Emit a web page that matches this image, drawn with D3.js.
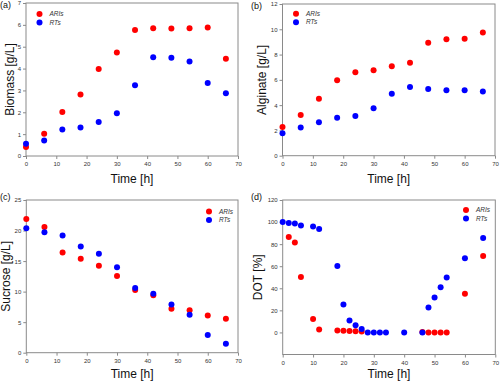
<!DOCTYPE html>
<html><head><meta charset="utf-8">
<script src="https://cdn.jsdelivr.net/npm/d3@7"></script>
<style>body{margin:0;background:#fff}svg{display:block;font-family:"Liberation Sans",Arial,sans-serif}</style>
</head><body><svg id="c" width="500" height="382"></svg>
<script>
const timeAB = [0,6,12,18,24,30,36,42,48,54,60,66];
const biomassARIs = [0.41,1.02,2.01,2.81,3.98,4.73,5.77,5.84,5.83,5.84,5.88,4.45];
const biomassRTs  = [0.56,0.71,1.21,1.30,1.55,1.96,3.24,4.52,4.49,4.32,3.34,2.87];
const alginateARIs = [2.27,3.22,4.51,5.96,6.60,6.75,7.07,7.36,8.94,9.21,9.26,9.74];
const alginateRTs  = [1.77,2.24,2.64,3.01,3.14,3.75,4.91,5.44,5.28,5.17,5.17,5.07];
const sucroseARIs = [21.9,20.6,16.4,15.4,14.25,12.55,10.26,9.39,7.2,6.93,6.11,5.57];
const sucroseRTs  = [20.36,19.7,19.2,17.4,16.2,13.97,10.6,9.66,7.91,6.22,2.89,1.47];
const dotTimeARIs = [2,4,6,10,12,18,20,22,24,26,46,48,50,52,54,60,66];
const dotARIs = [86.5,81.4,50.3,12.1,2.7,1.8,1.5,1.2,1.0,0.9,0.3,0,0,0,0,35,69.3];
const dotTimeRTs = [0,2,4,6,10,12,18,20,22,24,26,28,30,32,34,40,46,48,50,52,54,60,66];
const dotRTs = [100,99.1,98.6,97,95.9,93.8,60.3,25.3,10.9,6.6,3,0,0,0,0,0,0,22.6,31.7,41,49.7,67.2,85.6];
const xTicks = [0,10,20,30,40,50,60,70];
const seriesNames = ["ARIs","RTs"];
const colors = ["#ff0000","#0000ff"];

const svg = d3.select("#c");

function panel(o){
  const g = svg.append("g");
  const x = d3.scaleLinear().domain([0,70]).range([o.l,o.r]);
  const y = d3.scaleLinear().domain(o.yDomain).range([o.b,o.t]);
  g.append("rect").attr("x",o.l).attr("y",o.t).attr("width",o.r-o.l).attr("height",o.b-o.t)
    .attr("fill","none").attr("stroke","#8a8a8a").attr("stroke-width",1);
  const xa = g.append("g").attr("transform",`translate(0,${o.b})`)
    .call(d3.axisBottom(x).tickValues(xTicks).tickFormat(d3.format("d")).tickSize(3).tickSizeOuter(0).tickPadding(3));
  const ya = g.append("g").attr("transform",`translate(${o.l},0)`)
    .call(d3.axisLeft(y).tickValues(o.yTicks).tickFormat(d3.format("d")).tickSize(3).tickSizeOuter(0).tickPadding(2));
  [xa,ya].forEach(a=>{
    a.select(".domain").remove();
    a.selectAll("line").attr("stroke","#8a8a8a");
    a.selectAll("text").attr("font-size",6).attr("fill","#333").attr("font-family","Liberation Sans, Arial, sans-serif");
  });
  g.append("text").attr("x",(o.l+o.r)/2).attr("y",o.b+o.xo).attr("text-anchor","middle")
    .attr("font-size",12).attr("fill","#111").text("Time [h]");
  g.append("text").attr("transform",`translate(${o.yl},${(o.t+o.b)/2}) rotate(-90)`)
    .attr("text-anchor","middle").attr("font-size",12).attr("fill","#111").text(o.ytitle);
  g.append("text").attr("x",o.px).attr("y",o.py).attr("font-size",9).attr("fill","#111").text(o.label);
  o.series.forEach((s,i)=>{
    g.append("g").selectAll("circle").data(s.x.map((t,k)=>[t,s.y[k]])).join("circle")
      .attr("cx",d=>x(d[0])).attr("cy",d=>y(d[1])).attr("r",3).attr("fill",colors[i]);
  });
  seriesNames.forEach((n,i)=>{
    g.append("circle").attr("cx",o.lx).attr("cy",o.ly+i*8.5).attr("r",3).attr("fill",colors[i]);
    g.append("text").attr("x",o.lx+10).attr("y",o.ly+i*8.5+2.2).attr("font-size",6.5)
      .attr("font-style","italic").attr("fill","#333").text(n);
  });
}

panel({l:26,r:238,t:3,b:156,yDomain:[0,7],yTicks:d3.range(0,8),ytitle:"Biomass [g/L]",yl:13.5,xo:27,
  label:"(a)",px:0,py:8,lx:39.5,ly:14,
  series:[{x:timeAB,y:biomassARIs},{x:timeAB,y:biomassRTs}]});
panel({l:282.5,r:495,t:4,b:155.7,yDomain:[0,12],yTicks:[0,2,4,6,8,10,12],ytitle:"Alginate [g/L]",yl:265.5,xo:27,
  label:"(b)",px:251,py:9,lx:296,ly:13.7,
  series:[{x:timeAB,y:alginateARIs},{x:timeAB,y:alginateRTs}]});
panel({l:26.3,r:238,t:200,b:352.7,yDomain:[0,25],yTicks:[0,5,10,15,20,25],ytitle:"Sucrose [g/L]",yl:9.5,xo:25,
  label:"(c)",px:0,py:200,lx:209,ly:211.5,
  series:[{x:timeAB,y:sucroseARIs},{x:timeAB,y:sucroseRTs}]});
panel({l:282.7,r:495.3,t:200,b:354.5,yDomain:[-20,120],yTicks:[0,20,40,60,80,100,120],ytitle:"DOT [%]",yl:262,xo:23,
  label:"(d)",px:251,py:200,lx:466,ly:210,
  series:[{x:dotTimeARIs,y:dotARIs},{x:dotTimeRTs,y:dotRTs}]});
</script></body></html>
